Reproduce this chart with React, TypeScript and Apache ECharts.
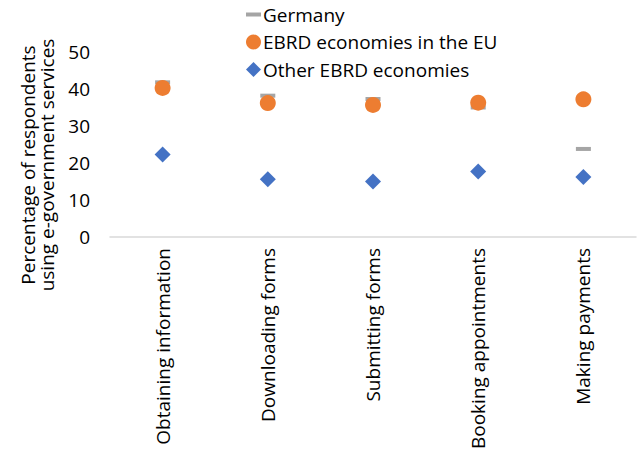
import React, { useEffect, useRef } from "react";
import * as echarts from "echarts";

const categories = [
  "Obtaining information",
  "Downloading forms",
  "Submitting forms",
  "Booking appointments",
  "Making payments",
];
const germany = [41.8, 38.2, 37.3, 35.0, 23.8];
const ebrdEU = [40.3, 36.2, 35.7, 36.3, 37.2];
const otherEBRD = [22.3, 15.6, 15.0, 17.7, 16.2];
const yTicks = { min: 0, max: 50, interval: 10 };
const yTitle = "Percentage of respondents\nusing e-government services";

const FONT = "'Open Sans', 'Liberation Sans', sans-serif";

export default function App() {
  const ref = useRef<HTMLDivElement>(null);
  useEffect(() => {
    if (!ref.current) return;
    const chart = echarts.init(ref.current, undefined, { renderer: "svg" });
    chart.setOption({
      animation: false,
      textStyle: { fontFamily: FONT },
      legend: {
        orient: "vertical",
        left: 241,
        top: 0,
        itemGap: 8.5,
        itemWidth: 15,
        itemHeight: 15,
        symbolKeepAspect: true,
        textStyle: { fontSize: 19, color: "#000", fontFamily: FONT, lineHeight: 19, padding: [0, 0, 0, -3] },
        data: [
          { name: "Germany", icon: "path://M0,0H15V4H0Z" },
          { name: "EBRD economies in the EU", icon: "circle" },
          { name: "Other EBRD economies", icon: "diamond" },
        ],
      },
      graphic: [
        {
          type: "text",
          x: 37,
          y: 165,
          rotation: Math.PI / 2,
          style: {
            text: yTitle,
            align: "center",
            verticalAlign: "middle",
            fontSize: 19,
            lineHeight: 19,
            fontFamily: FONT,
            fill: "#000",
          },
        },
      ],
      grid: { left: 110, right: 3, top: 52, bottom: 220, containLabel: false },
      xAxis: {
        type: "category",
        data: categories,
        axisLine: { lineStyle: { color: "#D9D9D9", width: 1.5 } },
        axisTick: { show: false },
        axisLabel: {
          rotate: 90,
          margin: 11,
          fontSize: 19,
          color: "#000",
          fontFamily: FONT,
          interval: 0,
        },
      },
      yAxis: {
        type: "value",
        min: yTicks.min,
        max: yTicks.max,
        interval: yTicks.interval,
        splitLine: { show: false },
        axisLine: { show: false },
        axisTick: { show: false },
        axisLabel: { fontSize: 19, color: "#000", margin: 20, fontFamily: FONT },
      },
      series: [
        {
          name: "Germany",
          type: "scatter",
          data: germany,
          symbol: "rect",
          symbolSize: [15, 4],
          itemStyle: { color: "#A5A5A5", opacity: 1 },
        },
        {
          name: "EBRD economies in the EU",
          type: "scatter",
          data: ebrdEU,
          symbol: "circle",
          symbolSize: 16,
          itemStyle: { color: "#ED7D31", opacity: 1 },
        },
        {
          name: "Other EBRD economies",
          type: "scatter",
          data: otherEBRD,
          symbol: "diamond",
          symbolSize: 16,
          itemStyle: { color: "#4472C4", opacity: 1 },
        },
      ],
    });
    return () => chart.dispose();
  }, []);
  return <div ref={ref} style={{ width: 639, height: 457, position: "absolute", left: 0, top: 0 }} />;
}
